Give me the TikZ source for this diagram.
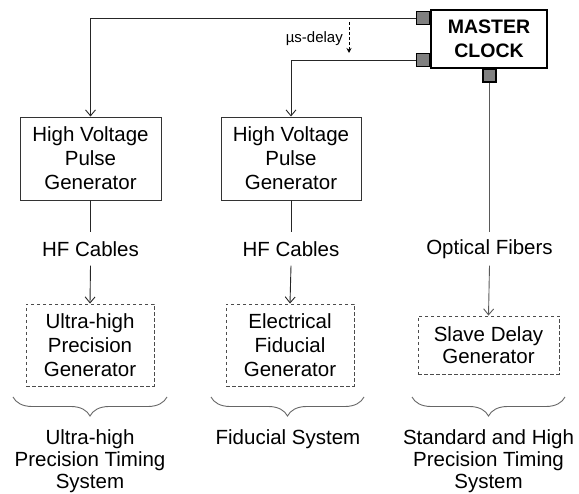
\documentclass[tikz,border=0pt]{standalone}
\usepackage{fontspec}
\setmainfont{Liberation Sans}
\usetikzlibrary{arrows.meta,decorations.pathreplacing}

\tikzset{
  txt/.style={font=\fontsize{20.5}{24}\selectfont, align=center},
  solidbox/.style={txt, draw=black!80, line width=0.9pt, inner sep=0pt},
  dashbox/.style={txt, draw=black!70, line width=0.9pt, dash pattern=on 3.5pt off 2.5pt, inner sep=0pt},
  port/.style={draw=black, line width=1.3pt, fill=black!50, minimum size=13pt, inner sep=0pt},
  link/.style={draw=black!85, line width=0.9pt},
  arr/.style={link, -{Straight Barb[length=6pt,width=10pt,line width=0.9pt]}},
  medium/.style={txt, inner sep=0pt, minimum height=33pt},
  bracelabel/.style={font=\fontsize{20.5}{22}\selectfont, align=center, anchor=north, inner sep=0pt},
  bracket/.style={draw=black!60, line width=0.9pt, decorate,
    decoration={brace, mirror, amplitude=19pt, aspect=0.5}},
}

\begin{document}
\begin{tikzpicture}[x=1pt, y=-1pt]
  \useasboundingbox (0,0) rectangle (579,494);

  % master clock and its three output ports
  \node[draw=black, line width=2.6pt, minimum width=116pt, minimum height=58pt,
        font=\fontsize{19.5}{24}\selectfont\bfseries, align=center, inner sep=0pt]
        (master) at (489,39) {MASTER\\CLOCK};
  \node[port] (p1) at (423,18) {};
  \node[port] (p2) at (423,60) {};
  \node[port] (p3) at (489.5,75.5) {};

  % pulse generators
  \node[solidbox, minimum width=141pt, minimum height=83pt] (hv1) at (90.5,158.5)
       {High Voltage\\Pulse\\Generator};
  \node[solidbox, minimum width=140pt, minimum height=83pt] (hv2) at (291,158.5)
       {High Voltage\\Pulse\\Generator};

  % transmission media
  \node[medium] (hf1) at (90.5,249) {HF Cables};
  \node[medium] (hf2) at (291,249) {HF Cables};
  \node[medium] (opt) at (489.5,249) {Optical Fibers};

  % generators at the end of each chain
  \node[dashbox, minimum width=128pt, minimum height=82pt] (uhp) at (90,345)
       {Ultra-high\\Precision\\Generator};
  \node[dashbox, minimum width=128pt, minimum height=82pt] (efg) at (290,345)
       {Electrical\\Fiducial\\Generator};
  \node[dashbox, minimum width=141pt, minimum height=58pt,
        font=\fontsize{20.5}{22}\selectfont] (sdg) at (488.5,345)
       {Slave Delay\\Generator};

  % clock distribution
  \draw[arr] (p1.west) -| (hv1.north);
  \draw[arr] (p2.west) -| (hv2.north);
  \draw[link, draw=black!65] (p3.south) -- (opt.north);
  \draw[arr, draw=black!65] (opt.south) -- (sdg.north);

  \draw[link] (hv1.south) -- (hf1.north);
  \draw[arr] (hf1.south) -- (uhp.north);
  \draw[link] (hv2.south) -- (hf2.north);
  \draw[arr] (hf2.south) -- (efg.north);

  % delay marker
  \coordinate (dtop) at (349,22);
  \coordinate (dbot) at (349,53);
  \draw[black, line width=0.9pt, dash pattern=on 3pt off 2pt,
        -{Stealth[length=5pt,width=5pt]}] (dtop) -- (dbot);
  \node[font=\fontsize{15}{18}\selectfont, anchor=east, inner sep=0pt]
       (dlabel) at (343,39) {µs-delay};

  % system groupings
  \coordinate (b1l) at (13,397);   \coordinate (b1r) at (167,397);
  \coordinate (b2l) at (211,397);  \coordinate (b2r) at (364,397);
  \coordinate (b3l) at (412,397);  \coordinate (b3r) at (565,397);
  \draw[bracket] (b1l) -- (b1r);
  \draw[bracket] (b2l) -- (b2r);
  \draw[bracket] (b3l) -- (b3r);

  \node[bracelabel] (s1) at (90,429) {Ultra-high\\Precision Timing\\System};
  \node[bracelabel] (s2) at (288,429) {Fiducial System};
  \node[bracelabel] (s3) at (488.5,429) {Standard and High\\Precision Timing\\System};
\end{tikzpicture}
\end{document}
